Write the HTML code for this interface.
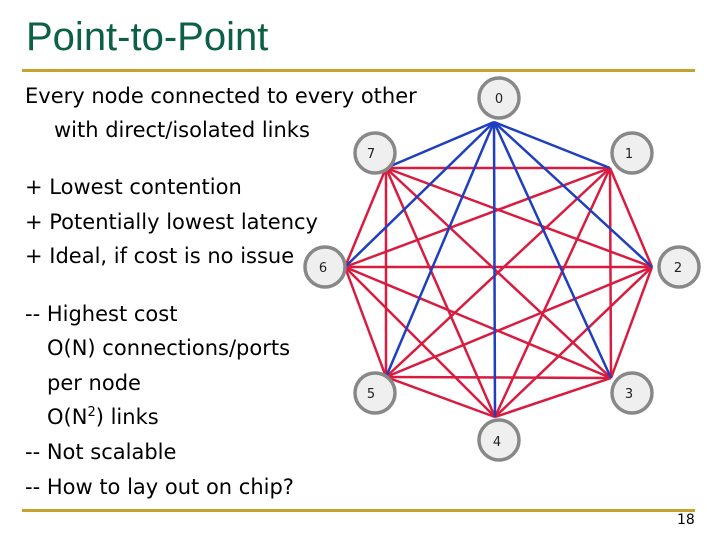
<!DOCTYPE html>
<html><head><meta charset="utf-8"><style>
body{margin:0;width:720px;height:540px;background:#fff;position:relative;overflow:hidden;font-family:"DejaVu Sans","Liberation Sans",sans-serif}
.t{position:absolute;white-space:nowrap;color:#000;font-size:21px}
</style></head><body>
<div style="position:absolute;left:26px;top:15px;font-family:'Liberation Sans',sans-serif;font-size:40px;color:#0c6048">Point-to-Point</div>
<div style="position:absolute;left:22px;top:69px;width:673px;height:3px;background:#c8a22e"></div>
<div style="position:absolute;left:22px;top:509px;width:673px;height:3px;background:#c8a22e"></div>
<div class="t" style="left:25px;top:84px">Every node connected to every other</div>
<div class="t" style="left:54px;top:118px">with direct/isolated links</div>
<div class="t" style="left:25px;top:175px">+ Lowest contention</div>
<div class="t" style="left:25px;top:210px">+ Potentially lowest latency</div>
<div class="t" style="left:25px;top:244px">+ Ideal, if cost is no issue</div>
<div class="t" style="left:25px;top:302px">-- Highest cost</div>
<div class="t" style="left:47px;top:336px">O(N) connections/ports</div>
<div class="t" style="left:47px;top:371px">per node</div>
<div class="t" style="left:47px;top:405px">O(N<sup style="font-size:13px">2</sup>) links</div>
<div class="t" style="left:25px;top:440px">-- Not scalable</div>
<div class="t" style="left:25px;top:475px">-- How to lay out on chip?</div>
<div class="t" style="left:677px;top:512px;font-size:14px">18</div>
<svg width="720" height="540" style="position:absolute;left:0;top:0">
<g stroke="#d81c3f" stroke-width="2.5">
<line x1="610" y1="168" x2="652" y2="267"/><line x1="610" y1="168" x2="611" y2="378"/><line x1="610" y1="168" x2="495" y2="417"/><line x1="610" y1="168" x2="386" y2="377"/><line x1="610" y1="168" x2="345" y2="267"/><line x1="610" y1="168" x2="386" y2="168"/>
<line x1="652" y1="267" x2="611" y2="378"/><line x1="652" y1="267" x2="495" y2="417"/><line x1="652" y1="267" x2="386" y2="377"/><line x1="652" y1="267" x2="345" y2="267"/><line x1="652" y1="267" x2="386" y2="168"/>
<line x1="611" y1="378" x2="495" y2="417"/><line x1="611" y1="378" x2="386" y2="377"/><line x1="611" y1="378" x2="345" y2="267"/><line x1="611" y1="378" x2="386" y2="168"/>
<line x1="495" y1="417" x2="386" y2="377"/><line x1="495" y1="417" x2="345" y2="267"/><line x1="495" y1="417" x2="386" y2="168"/>
<line x1="386" y1="377" x2="345" y2="267"/><line x1="386" y1="377" x2="386" y2="168"/>
<line x1="345" y1="267" x2="386" y2="168"/>
</g>
<g stroke="#1f3fbf" stroke-width="2.5">
<line x1="494" y1="122" x2="610" y2="168"/><line x1="494" y1="122" x2="652" y2="267"/><line x1="494" y1="122" x2="611" y2="378"/><line x1="494" y1="122" x2="495" y2="417"/><line x1="494" y1="122" x2="386" y2="377"/><line x1="494" y1="122" x2="345" y2="267"/><line x1="494" y1="122" x2="386" y2="168"/>
</g>
<g fill="#efefef" stroke="#888" stroke-width="3.5">
<circle cx="499" cy="98" r="20"/><circle cx="632" cy="153" r="20"/><circle cx="679" cy="267" r="20"/><circle cx="632" cy="393" r="20"/><circle cx="499" cy="440" r="20"/><circle cx="375" cy="393" r="20"/><circle cx="325" cy="267" r="20"/><circle cx="375" cy="153" r="20"/>
</g>
<g font-family="DejaVu Sans, sans-serif" font-size="13" text-anchor="middle" fill="#222">
<text x="499" y="103">0</text><text x="629" y="158">1</text><text x="678" y="272">2</text><text x="629" y="398">3</text><text x="497" y="446">4</text><text x="371" y="398">5</text><text x="323" y="272">6</text><text x="371" y="158">7</text>
</g>
</svg>
</body></html>
